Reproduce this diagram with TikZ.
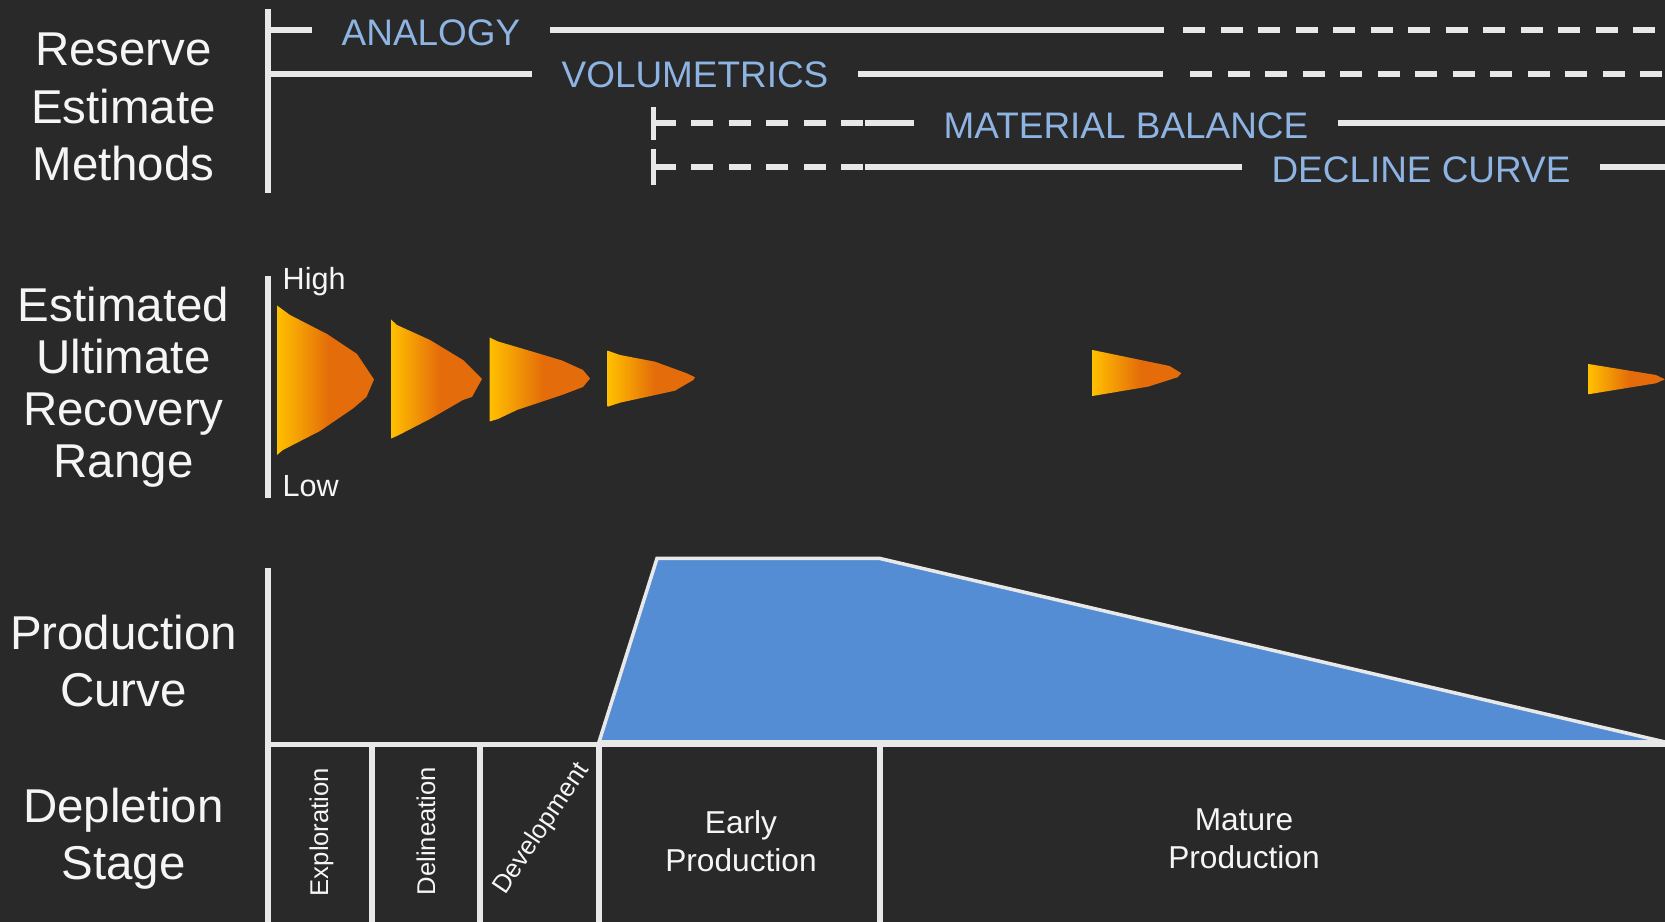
\documentclass[tikz,border=0pt]{standalone}
\usepackage{fontspec}
\setmainfont{Liberation Sans}

\definecolor{bgdark}{RGB}{41,41,41}
\definecolor{linegray}{RGB}{232,232,232}
\definecolor{labelwhite}{RGB}{245,245,245}
\definecolor{methblue}{RGB}{142,180,227}
\definecolor{prodblue}{RGB}{84,141,212}
\definecolor{coneyellow}{RGB}{255,192,0}
\definecolor{coneorange}{RGB}{228,108,10}

\pgfdeclarehorizontalshading{conefill}{100bp}{color(0bp)=(coneyellow); color(25bp)=(coneyellow); color(52bp)=(coneorange); color(100bp)=(coneorange)}

\begin{document}
\begin{tikzpicture}[
    x=0.01cm, y=-0.01cm,
    rowlabel/.style={align=center, inner sep=0pt, text=labelwhite, anchor=north},
    method/.style={text=methblue, font=\fontsize{10.5pt}{12.6pt}\selectfont, inner xsep=0.29cm, inner ysep=0pt, anchor=base},
    axisline/.style={draw=linegray, line width=1.6pt},
    dashline/.style={axisline, dash pattern=on 0.22cm off 0.155cm},
    cone/.style={shading=conefill},
    stage/.style={text=labelwhite, inner sep=0pt, font=\fontsize{7.3pt}{8.8pt}\selectfont},
    phase/.style={text=labelwhite, inner sep=0pt, align=center, anchor=north, font=\fontsize{9pt}{10.8pt}\selectfont}
]

\useasboundingbox (0,0) rectangle (1665,922);
\fill[bgdark] (0,0) rectangle (1665,922);

% Row labels
\node[rowlabel, font=\fontsize{13.5pt}{16.3pt}\selectfont] (resmethods) at (123.5,32.5) {Reserve\\Estimate\\Methods};
\node[rowlabel, font=\fontsize{13.5pt}{14.8pt}\selectfont] (eurrange) at (123.5,286) {Estimated\\Ultimate\\Recovery\\Range};
\node[rowlabel, font=\fontsize{13.5pt}{16.3pt}\selectfont] (prodcurve) at (123.5,614) {Production\\Curve};
\node[rowlabel, font=\fontsize{13.5pt}{16.2pt}\selectfont] (depstage) at (123.5,787.5) {Depletion\\Stage};

% Reserve estimate methods
\coordinate (resTop) at (268,9);
\coordinate (resBot) at (268,193);
\draw[axisline] (resTop) -- (resBot);

\node[method] (analogy) at (431,45.7) {ANALOGY};
\node[method] (volumetrics) at (695,87.7) {VOLUMETRICS};
\node[method] (matbal) at (1126,138.3) {MATERIAL BALANCE};
\node[method] (decline) at (1421,183) {DECLINE CURVE};

% Analogy
\coordinate (anaStart) at (268,30);
\coordinate (anaBreak) at (1164,30);
\coordinate (anaDash) at (1183,30);
\coordinate (anaEnd) at (1665,30);
\draw[axisline] (anaStart) -- (anaStart -| analogy.west);
\draw[axisline] (anaStart -| analogy.east) -- (anaBreak);
\draw[dashline] (anaDash) -- (anaEnd);

% Volumetrics
\coordinate (volStart) at (268,74);
\coordinate (volBreak) at (1163,74);
\coordinate (volDash) at (1190,74);
\coordinate (volEnd) at (1665,74);
\draw[axisline] (volStart) -- (volStart -| volumetrics.west);
\draw[axisline] (volStart -| volumetrics.east) -- (volBreak);
\draw[dashline] (volDash) -- (volEnd);

% Material balance
\coordinate (mbTickTop) at (653.5,107);
\coordinate (mbTickBot) at (653.5,140);
\coordinate (mbStart) at (653.5,123);
\coordinate (mbSolid) at (865,123);
\coordinate (mbEnd) at (1665,123);
\draw[axisline] (mbTickTop) -- (mbTickBot);
\draw[dashline] (mbStart) -- (mbSolid);
\draw[axisline] (mbSolid) -- (mbSolid -| matbal.west);
\draw[axisline] (mbSolid -| matbal.east) -- (mbEnd);

% Decline curve
\coordinate (dcTickTop) at (653.5,149);
\coordinate (dcTickBot) at (653.5,185);
\coordinate (dcStart) at (653.5,167);
\coordinate (dcSolid) at (865,167);
\coordinate (dcEnd) at (1665,167);
\draw[axisline] (dcTickTop) -- (dcTickBot);
\draw[dashline] (dcStart) -- (dcSolid);
\draw[axisline] (dcSolid) -- (dcSolid -| decline.west);
\draw[axisline] (dcSolid -| decline.east) -- (dcEnd);

% EUR range
\coordinate (eurTop) at (268,276);
\coordinate (eurBot) at (268,498);
\draw[axisline] (eurTop) -- (eurBot);
\node[text=labelwhite, inner sep=0pt, anchor=base west, font=\fontsize{8.7pt}{10pt}\selectfont] (high) at (282,290) {High};
\node[text=labelwhite, inner sep=0pt, anchor=base west, font=\fontsize{8.7pt}{10pt}\selectfont] (low) at (282,497) {Low};

\shade[cone] (277,305.5) -- (290,315) -- (327,334) -- (357,354) -- (374,379.5) -- (366.5,397) -- (353,408.5) -- (320,431) -- (283,450) -- (277,455) -- cycle;
\shade[cone] (391,319.5) -- (397,325) -- (430,340) -- (463,360) -- (482,379) -- (472,397) -- (463,400) -- (430,419) -- (397,436) -- (391,438.5) -- cycle;
\shade[cone] (489.5,337.5) -- (498,341.5) -- (527,350) -- (562,360.5) -- (583,370) -- (590,378.5) -- (583,387) -- (562,395) -- (517,410) -- (498,419) -- (489.5,421.5) -- cycle;
\shade[cone] (607.7,350.7) -- (620,355) -- (655,361.7) -- (686.7,373.3) -- (695,377.3) -- (693.3,380) -- (675,390.7) -- (620,402.7) -- (607.7,406.7) -- cycle;
\shade[cone] (1092.4,350) -- (1169.6,366) -- (1181.4,373.3) -- (1177.5,377.3) -- (1148,386.7) -- (1092.4,396) -- cycle;
\shade[cone] (1588.4,364) -- (1655.9,375) -- (1665,379.3) -- (1655.9,383.3) -- (1614.7,390) -- (1588.4,394.3) -- cycle;

% Production curve
\filldraw[fill=prodblue, draw=linegray, line width=1pt] (599,742) -- (657,558.5) -- (880,558.5) -- (1665,742) -- cycle;
\coordinate (prodTop) at (268,568);
\coordinate (prodBot) at (268,922);
\coordinate (baseLeft) at (268,744.5);
\coordinate (baseRight) at (1665,744.5);
\draw[axisline] (prodTop) -- (prodBot);
\draw[axisline] (baseLeft) -- (baseRight);

% Depletion stages
\foreach \xd in {372,480,599,880}
    \draw[axisline] (\xd,744.5) -- (\xd,922);

\node[stage, rotate=90] (exploration) at (321.5,832) {Exploration};
\node[stage, rotate=90] (delineation) at (426,831) {Delineation};
\node[stage, rotate=56] (development) at (542,829) {Development};
\node[phase] (earlyprod) at (741,810) {Early\\Production};
\node[phase] (matureprod) at (1244,808) {Mature\\Production};

\end{tikzpicture}
\end{document}
